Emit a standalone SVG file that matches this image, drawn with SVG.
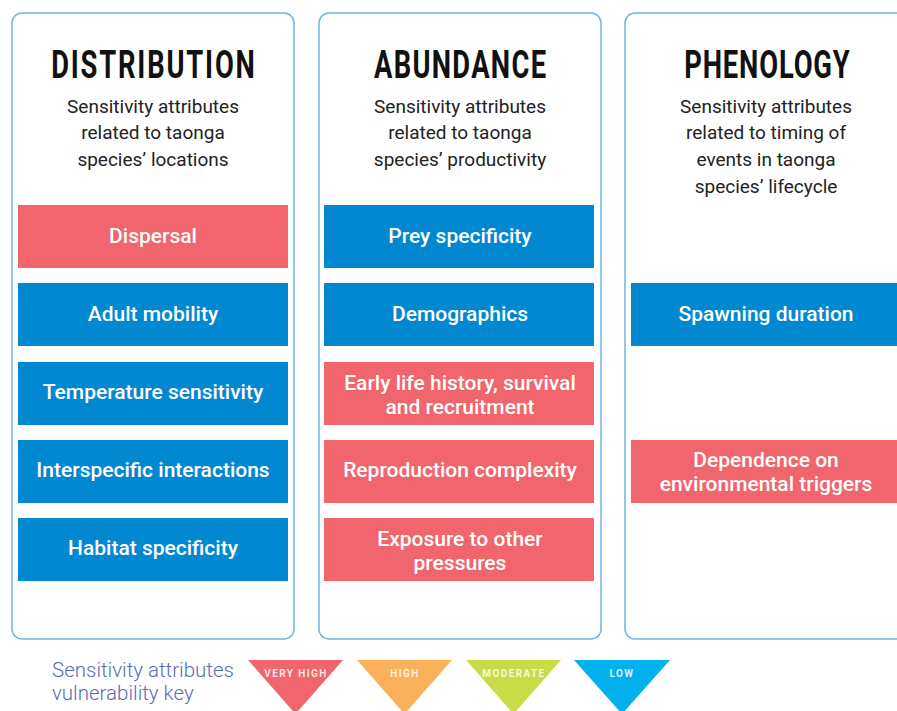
<svg xmlns="http://www.w3.org/2000/svg" width="897" height="711" viewBox="0 0 897 711">
<style>
.panel{fill:#fff;stroke:#6cb6e4;stroke-width:1.5}
.red{fill:#f0666c}
.blue{fill:#0288d1}
.lbl{font-family:Roboto,"Noto Sans",sans-serif;font-weight:500;font-size:21px;fill:#fff;text-anchor:middle}
.title{font-family:Roboto,"Noto Sans",sans-serif;font-weight:700;font-size:38px;fill:#111;text-anchor:middle}
.sub{font-family:Roboto,"Noto Sans",sans-serif;font-size:19px;fill:#222;text-anchor:middle}
.key{font-family:Roboto,"Noto Sans",sans-serif;font-weight:300;font-size:20.5px;fill:#5a6db4}
.tri{font-family:Roboto,sans-serif;font-weight:700;font-size:10px;fill:#fff;fill-opacity:0.85;text-anchor:middle;letter-spacing:1.4px}
</style>
<rect width="897" height="711" fill="#fff"/>
<g id="distribution">
<rect class="panel" x="12" y="13" width="282" height="626" rx="10"/>
<text class="title" transform="translate(153,78) scale(0.72,1)" x="0" y="0" textLength="283" lengthAdjust="spacing">DISTRIBUTION</text>
<text class="sub" x="153" y="113">Sensitivity attributes</text>
<text class="sub" x="153" y="139">related to taonga</text>
<text class="sub" x="153" y="166">species’ locations</text>
</g>
<g id="abundance">
<rect class="panel" x="319" y="13" width="282" height="626" rx="10"/>
<text class="title" transform="translate(460,78) scale(0.72,1)" x="0" y="0" textLength="239" lengthAdjust="spacing">ABUNDANCE</text>
<text class="sub" x="460" y="113">Sensitivity attributes</text>
<text class="sub" x="460" y="139">related to taonga</text>
<text class="sub" x="460" y="166">species’ productivity</text>
</g>
<g id="phenology">
<rect class="panel" x="625" y="13" width="300" height="626" rx="10"/>
<text class="title" transform="translate(767,78) scale(0.72,1)" x="0" y="0" textLength="230" lengthAdjust="spacing">PHENOLOGY</text>
<text class="sub" x="766" y="113">Sensitivity attributes</text>
<text class="sub" x="766" y="139">related to timing of</text>
<text class="sub" x="766" y="166">events in taonga</text>
<text class="sub" x="766" y="193">species’ lifecycle</text>
</g>
<g id="dispersal"><rect class="red" x="18" y="205" width="270" height="63"/><text class="lbl" x="153" y="243">Dispersal</text></g>
<g id="adult-mobility"><rect class="blue" x="18" y="283" width="270" height="63"/><text class="lbl" x="153" y="321">Adult mobility</text></g>
<g id="temperature-sensitivity"><rect class="blue" x="18" y="362" width="270" height="63"/><text class="lbl" x="153" y="399">Temperature sensitivity</text></g>
<g id="interspecific-interactions"><rect class="blue" x="18" y="440" width="270" height="63"/><text class="lbl" x="153" y="477">Interspecific interactions</text></g>
<g id="habitat-specificity"><rect class="blue" x="18" y="518" width="270" height="63"/><text class="lbl" x="153" y="555">Habitat specificity</text></g>
<g id="prey-specificity"><rect class="blue" x="324" y="205" width="270" height="63"/><text class="lbl" x="460" y="243">Prey specificity</text></g>
<g id="demographics"><rect class="blue" x="324" y="283" width="270" height="63"/><text class="lbl" x="460" y="321">Demographics</text></g>
<g id="early-life-history"><rect class="red" x="324" y="362" width="270" height="63"/><text class="lbl" x="460" y="390">Early life history, survival</text><text class="lbl" x="460" y="414">and recruitment</text></g>
<g id="reproduction-complexity"><rect class="red" x="324" y="440" width="270" height="63"/><text class="lbl" x="460" y="477">Reproduction complexity</text></g>
<g id="exposure-to-other-pressures"><rect class="red" x="324" y="518" width="270" height="63"/><text class="lbl" x="460" y="546">Exposure to other</text><text class="lbl" x="460" y="570">pressures</text></g>
<g id="spawning-duration"><rect class="blue" x="631" y="283" width="280" height="63"/><text class="lbl" x="766" y="321">Spawning duration</text></g>
<g id="dependence-on-environmental-triggers"><rect class="red" x="631" y="440" width="280" height="63"/><text class="lbl" x="766" y="467">Dependence on</text><text class="lbl" x="766" y="491">environmental triggers</text></g>
<g id="connectors"></g>
<g id="key">
<text class="key" x="52" y="677">Sensitivity attributes</text>
<text class="key" x="52" y="700">vulnerability key</text>
<polygon points="248,660 343,660 295.5,714" fill="#f0666c"/>
<text class="tri" x="296" y="677">VERY HIGH</text>
<polygon points="357,660 452,660 404.5,714" fill="#fbb05a"/>
<text class="tri" x="405" y="677">HIGH</text>
<polygon points="466,660 561,660 513.5,714" fill="#c9dc46"/>
<text class="tri" x="514" y="677">MODERATE</text>
<polygon points="574,660 670,660 622,714" fill="#02b0ee"/>
<text class="tri" x="622" y="677">LOW</text>
</g>
</svg>
